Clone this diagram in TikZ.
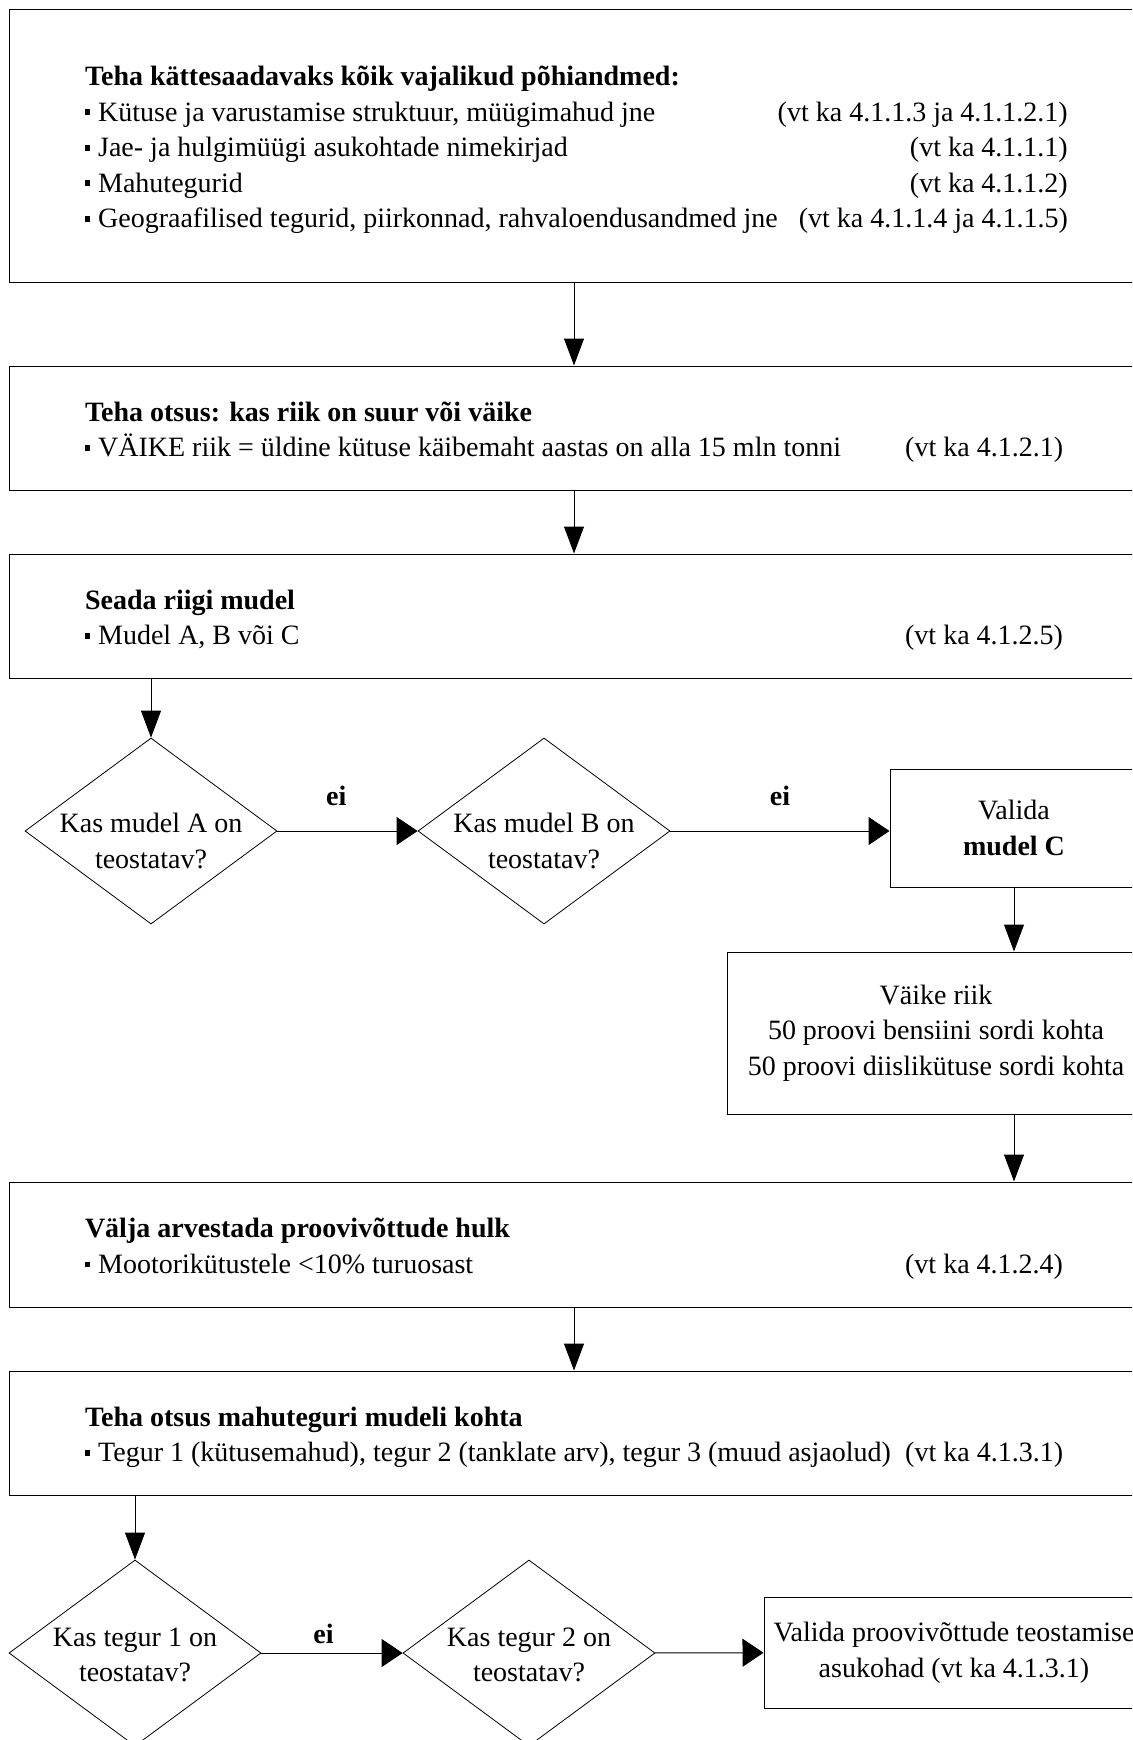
\documentclass[tikz,border=0pt]{standalone}
\usepackage{fontspec}
\setmainfont{Liberation Serif}
\usetikzlibrary{shapes.geometric,arrows.meta}
\newcommand{\blt}{\rule[0.21em]{0.18em}{0.21em}\hspace{0.29em}}
\newcommand{\boxtext}[2]{\begin{tabular*}{489pt}{@{}l@{\extracolsep{\fill}}r@{}}\multicolumn{2}{@{}l@{}}{\rule{0pt}{16.4pt}\textbf{#1}}\\#2\end{tabular*}}

\begin{document}
\begin{tikzpicture}[x=0.5pt,y=-0.5pt,font=\fontsize{14}{17.75}\selectfont,
	bigbox/.style={draw,line width=0.5pt,inner xsep=38pt},
	smallbox/.style={draw,line width=0.5pt,align=center,inner xsep=2pt},
	question/.style={draw,diamond,aspect=1.34,inner sep=0pt,minimum width=126pt,minimum height=93pt,line width=0.4pt},
	qtext/.style={align=center},
	arrdown/.style={-{Triangle[length=13.5pt,width=10pt]},line width=0.5pt},
	arracross/.style={-{Triangle[length=10.5pt,width=14pt]},line width=0.5pt},
	ei/.style={font=\fontsize{14}{17.75}\selectfont\bfseries}]
	\useasboundingbox (0,0) rectangle (1132,1740);
	\clip (0,0) rectangle (1132,1740);
	\node[bigbox,minimum height=136.5pt] (data) at (574,145.5) {\boxtext{Teha kättesaadavaks kõik vajalikud põhiandmed:}{%
		\blt Kütuse ja varustamise struktuur, müügimahud jne & (vt ka 4.1.1.3 ja 4.1.1.2.1)\\
		\blt Jae- ja hulgimüügi asukohtade nimekirjad & (vt ka 4.1.1.1)\\
		\blt Mahutegurid & (vt ka 4.1.1.2)\\
		\blt Geograafilised tegurid, piirkonnad, rahvaloendusandmed jne & (vt ka 4.1.1.4 ja 4.1.1.5)}};
	\node[bigbox,minimum height=62pt] (size) at (574,428) {\boxtext{Teha otsus: kas riik on suur või väike}{%
		\blt VÄIKE riik = üldine kütuse käibemaht aastas on alla 15 mln tonni & (vt ka 4.1.2.1)}};
	\node[bigbox,minimum height=62pt] (model) at (574,616) {\boxtext{Seada riigi mudel}{%
		\blt Mudel A, B või C & (vt ka 4.1.2.5)}};
	\node[question] (dA) at (151,831) {};
	\node[qtext] (tA) at (151,841) {Kas mudel A on\\teostatav?};
	\node[question] (dB) at (544,831) {};
	\node[qtext] (tB) at (544,841) {Kas mudel B on\\teostatav?};
	\node[smallbox,minimum width=124pt,minimum height=59pt] (choose) at (1014,828) {Valida\\\textbf{mudel C}};
	\node[smallbox,minimum width=209pt,minimum height=81pt] (small) at (936,1033) {Väike riik\\50 proovi bensiini sordi kohta\\50 proovi diislikütuse sordi kohta};
	\node[bigbox,minimum height=62.5pt] (count) at (574,1244.5) {\boxtext{Välja arvestada proovivõttude hulk}{%
		\blt Mootorikütustele <10\% turuosast & (vt ka 4.1.2.4)}};
	\node[bigbox,minimum height=62pt] (factor) at (574,1433) {\boxtext{Teha otsus mahuteguri mudeli kohta}{%
		\blt Tegur 1 (kütusemahud), tegur 2 (tanklate arv), tegur 3 (muud asjaolud) & (vt ka 4.1.3.1)}};
	\node[question] (d1) at (135,1653) {};
	\node[qtext] (t1) at (135,1655) {Kas tegur 1 on\\teostatav?};
	\node[question] (d2) at (529,1653) {};
	\node[qtext] (t2) at (529,1655) {Kas tegur 2 on\\teostatav?};
	\node[smallbox,minimum width=190pt,minimum height=55.5pt] (place) at (954,1652.5) {Valida proovivõttude teostamise\\asukohad (vt ka 4.1.3.1)};

	\draw[arrdown] (data) -- (size);
	\draw[arrdown] (size) -- (model);
	\draw[arrdown] (dA.north |- model.south) -- (dA.north);
	\draw[arracross] (dA) -- node[ei,pos=0.42,above=9pt]{ei} (dB);
	\draw[arracross] (dB.east) -- node[ei,above=9pt]{ei} (dB.east -| choose.west);
	\draw[arrdown] (choose.south) -- (choose.south |- small.north);
	\draw[arrdown] (choose.south |- small.south) -- (choose.south |- count.north);
	\draw[arrdown] (count) -- (factor);
	\draw[arrdown] (d1.north |- factor.south) -- (d1.north);
	\draw[arracross] (d1) -- node[ei,pos=0.44,above=1pt]{ei} (d2);
	\draw[arracross] (d2) -- (place);
\end{tikzpicture}
\end{document}
